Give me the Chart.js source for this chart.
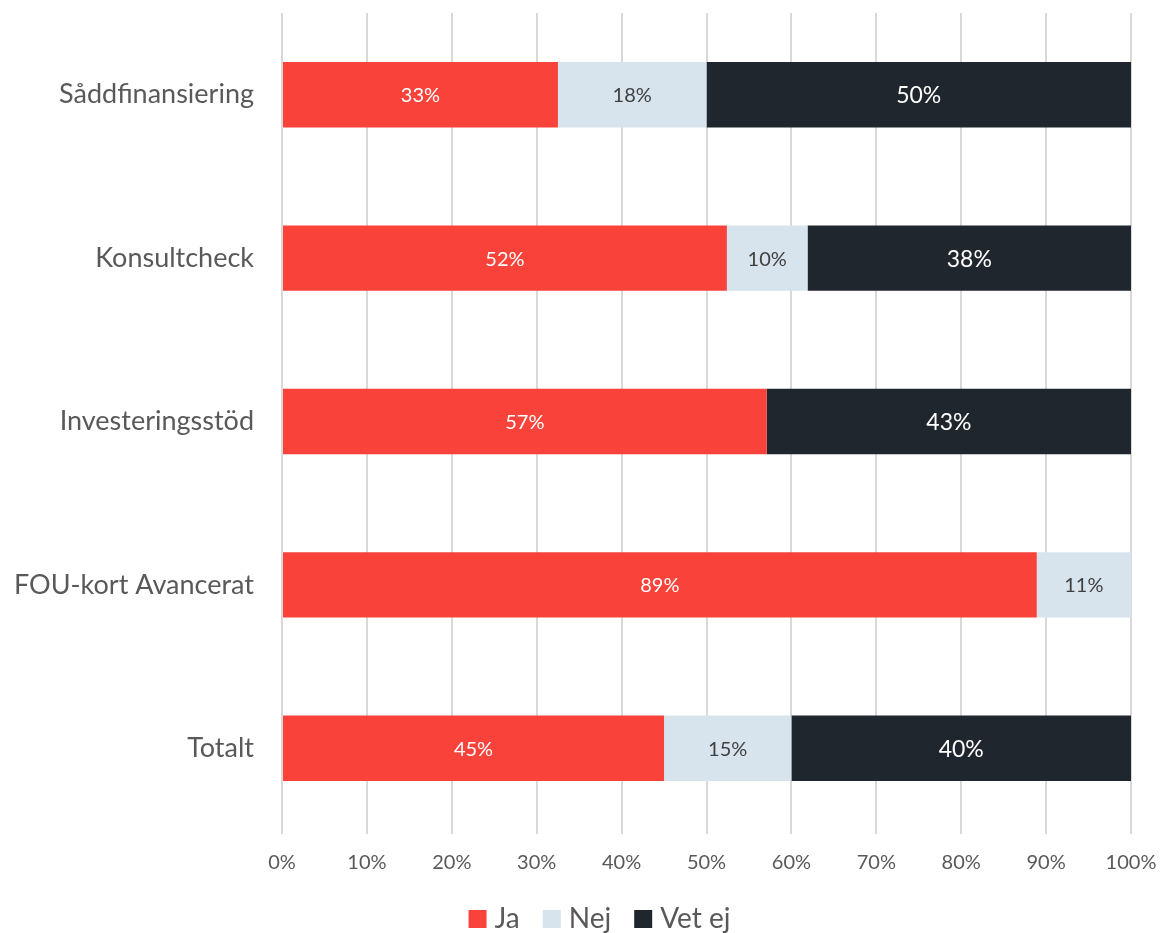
<!DOCTYPE html>
<html>
<head>
<meta charset="utf-8">
<style>
html,body{margin:0;padding:0;background:#fff;}
#wrap{width:1160px;height:933px;position:relative;}
</style>
<script src="https://cdn.jsdelivr.net/npm/chart.js@4.4.0/dist/chart.umd.min.js"></script>
</head>
<body>
<div id="wrap"><canvas id="c" width="1160" height="933"></canvas></div>
<script>
const categories = ["Såddfinansiering", "Konsultcheck", "Investeringsstöd", "FOU-kort Avancerat", "Totalt"];
const jaValues = [32.5, 52.4, 57.1, 88.9, 45];
const nejValues = [17.5, 9.5, 0, 11.1, 15];
const vetEjValues = [50, 38.1, 42.9, 0, 40];
const seriesNames = ["Ja", "Nej", "Vet ej"];
const tickValues = [0, 10, 20, 30, 40, 50, 60, 70, 80, 90, 100];

const FONT = "Lato, 'Open Sans', sans-serif";
const colors = ["#F9423A", "#D7E4EE", "#20262D"];
const labelColors = ["#FFFFFF", "#404040", "#FFFFFF"];
const labelSizes = [20, 20, 23];

const labelPlugin = {
  id: 'segLabels',
  afterDatasetsDraw(chart) {
    const ctx = chart.ctx;
    ctx.save();
    chart.data.datasets.forEach((ds, di) => {
      const meta = chart.getDatasetMeta(di);
      meta.data.forEach((bar, i) => {
        const v = ds.data[i];
        if (!v) return;
        const p = bar.getProps(['x', 'y', 'base'], true);
        const cx = (p.x + p.base) / 2;
        ctx.fillStyle = labelColors[di];
        ctx.font = labelSizes[di] + "px " + FONT;
        ctx.textAlign = 'center';
        ctx.textBaseline = 'middle';
        ctx.fillText(Math.round(v) + "%", cx, p.y + 1);
      });
    });
    ctx.restore();
  }
};

// Legend drawn below the axis, centred like the reference
const legendPlugin = {
  id: 'bottomLegend',
  afterDraw(chart) {
    const ctx = chart.ctx;
    ctx.save();
    const fs = 28, box = 18, gapText = 8, gapItem = 23;
    ctx.font = fs + "px " + FONT;
    ctx.textBaseline = 'middle';
    ctx.textAlign = 'left';
    const items = chart.data.datasets.map(ds => ({ text: ds.label, color: ds.backgroundColor }));
    let total = 0;
    items.forEach((it, i) => {
      it.w = ctx.measureText(it.text).width;
      total += box + gapText + it.w + (i < items.length - 1 ? gapItem : 0);
    });
    const cy = 919;
    let x = 599.5 - total / 2;
    items.forEach(it => {
      ctx.fillStyle = it.color;
      ctx.fillRect(x, cy - box / 2, box, box);
      x += box + gapText;
      ctx.fillStyle = '#595959';
      ctx.fillText(it.text, x, cy);
      x += it.w + gapItem;
    });
    ctx.restore();
  }
};

new Chart(document.getElementById('c'), {
  type: 'bar',
  data: {
    labels: categories,
    datasets: [
      { label: seriesNames[0], data: jaValues, backgroundColor: colors[0] },
      { label: seriesNames[1], data: nejValues, backgroundColor: colors[1] },
      { label: seriesNames[2], data: vetEjValues, backgroundColor: colors[2] }
    ]
  },
  options: {
    indexAxis: 'y',
    responsive: false,
    animation: false,
    devicePixelRatio: 1,
    layout: { padding: { top: 13, right: 29, bottom: 47, left: 0 } },
    datasets: { bar: { categoryPercentage: 0.8, barPercentage: 0.5, borderWidth: 0 } },
    scales: {
      x: {
        stacked: true,
        min: 0, max: 100,
        afterBuildTicks(scale) { scale.ticks = tickValues.map(v => ({ value: v })); },
        afterFit(scale) {
          scale.height = 56;
          scale.paddingLeft = 0; scale.paddingRight = 0;
          scale.paddingTop = 0; scale.paddingBottom = 0;
        },
        grid: { color: '#D9D9D9', lineWidth: 2, drawTicks: true, tickLength: 4 },
        border: { display: false },
        ticks: {
          color: '#595959',
          font: { family: FONT, size: 20 },
          padding: 17,
          callback: v => v + '%'
        }
      },
      y: {
        stacked: true,
        afterFit(scale) {
          scale.width = 282;
          scale.paddingTop = 0; scale.paddingBottom = 0;
          scale.paddingLeft = 0; scale.paddingRight = 0;
        },
        grid: { display: false },
        border: { display: false },
        ticks: {
          color: '#595959',
          font: { family: FONT, size: 27 },
          padding: 20
        }
      }
    },
    plugins: {
      legend: { display: false },
      tooltip: { enabled: false }
    }
  },
  plugins: [labelPlugin, legendPlugin]
});
</script>
</body>
</html>
